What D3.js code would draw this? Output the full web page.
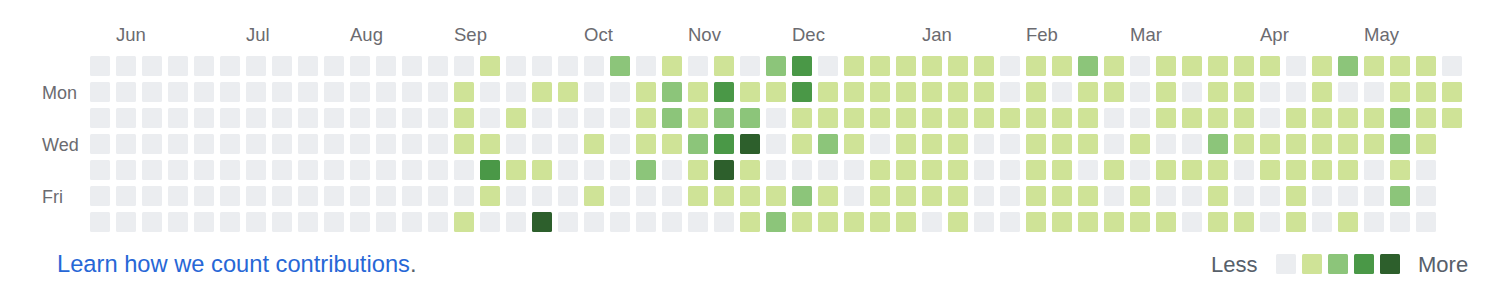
<!DOCTYPE html>
<html>
<head>
<meta charset="utf-8">
<script src="https://cdn.jsdelivr.net/npm/d3@7"></script>
<style>
  html, body { margin: 0; padding: 0; background: #ffffff; }
  svg { display: block; }
  text { font-family: "Liberation Sans", Arial, Helvetica, sans-serif; }
</style>
</head>
<body>
<svg id="chart" width="1510" height="296"></svg>
<script>
// ---- data ----
const dayLabels = ["", "Mon", "", "Wed", "", "Fri", ""];
const monthLabels = ["Jun", "Jul", "Aug", "Sep", "Oct", "Nov", "Dec", "Jan", "Feb", "Mar", "Apr", "May"];
const monthWeeks = [1, 6, 10, 14, 19, 23, 27, 32, 36, 40, 45, 49];
const weekCount = 53;
// contribution level (0-4) per week, one array per weekday row
const sunLevels = [0,0,0,0,0,0,0,0,0,0,0,0,0,0, 0,1,0,0,0,0,2,0,1,0,1,0,2,3,0, 1,1,1,1,1,1,0,1,1,2,1,0,1, 1,1,1,1,0,1,2,1,1,1,0];
const monLevels = [0,0,0,0,0,0,0,0,0,0,0,0,0,0, 1,0,0,1,1,0,0,1,2,1,3,1,1,3,1, 1,1,1,1,1,1,0,1,0,1,1,0,1, 0,1,1,0,0,1,0,0,1,1,1];
const tueLevels = [0,0,0,0,0,0,0,0,0,0,0,0,0,0, 1,0,1,0,0,0,0,1,2,1,2,2,0,1,1, 1,1,1,1,1,1,1,1,1,1,0,0,1, 1,1,1,0,1,1,1,1,2,1,1];
const wedLevels = [0,0,0,0,0,0,0,0,0,0,0,0,0,0, 1,1,0,0,0,1,0,1,1,2,3,4,0,1,2, 1,0,1,1,1,0,0,1,1,1,0,1,0, 0,2,1,1,1,1,1,1,2,1];
const thuLevels = [0,0,0,0,0,0,0,0,0,0,0,0,0,0, 0,3,1,1,0,0,0,2,0,1,4,1,0,0,0, 0,1,1,1,1,0,0,1,1,0,1,0,1, 1,1,0,1,1,1,1,0,1,0];
const friLevels = [0,0,0,0,0,0,0,0,0,0,0,0,0,0, 0,1,0,0,0,1,0,0,0,1,1,1,1,2,1, 0,1,1,1,1,0,0,1,1,1,0,1,0, 0,1,0,0,1,0,0,0,2,0];
const satLevels = [0,0,0,0,0,0,0,0,0,0,0,0,0,0, 1,0,0,4,0,0,0,0,0,0,0,1,2,1,1, 1,1,1,0,1,0,0,1,1,1,1,1,1, 0,1,1,0,1,0,1,0,0,0];
const legendLevels = [0, 1, 2, 3, 4];
const levelColors = ["#ebedf0", "#cfe397", "#8cc57a", "#4a9847", "#2d5f2c"];

// ---- build ----
const rows = [sunLevels, monLevels, tueLevels, wedLevels, thuLevels, friLevels, satLevels];
const cells = [];
rows.forEach((arr, r) => arr.forEach((lvl, w) => cells.push({ week: w, day: r, level: lvl })));

const svg = d3.select("#chart");
const gap = 6 / 26;
const x = d3.scaleBand().domain(d3.range(weekCount)).range([90, 90 + weekCount * 26 - 6]).paddingInner(gap).paddingOuter(0);
const y = d3.scaleBand().domain(d3.range(7)).range([56, 56 + 7 * 26 - 6]).paddingInner(gap).paddingOuter(0);
const color = d3.scaleOrdinal().domain(legendLevels).range(levelColors);

svg.append("g").selectAll("rect").data(cells).join("rect")
  .attr("x", d => x(d.week))
  .attr("y", d => y(d.day))
  .attr("width", x.bandwidth())
  .attr("height", y.bandwidth())
  .attr("rx", 1.5)
  .attr("fill", d => color(d.level));

// month labels
svg.append("g").selectAll("text").data(monthLabels).join("text")
  .attr("x", (d, i) => x(monthWeeks[i]))
  .attr("y", 41)
  .attr("font-size", 18.5)
  .attr("fill", "#6b6b70")
  .text(d => d);

// day labels
svg.append("g").selectAll("text").data(dayLabels).join("text")
  .attr("x", 42)
  .attr("y", (d, i) => y(i) + y.bandwidth() / 2 + 6.5)
  .attr("font-size", 18)
  .attr("fill", "#6b6b70")
  .text(d => d);

// footer link
const foot = svg.append("text").attr("x", 57).attr("y", 272).attr("font-size", 23.7);
foot.append("tspan").attr("fill", "#2767d6").text("Learn how we count contributions");
foot.append("tspan").attr("fill", "#57606a").text(".");

// legend
const lx = d3.scaleBand().domain(legendLevels).range([1276, 1276 + 5 * 26 - 6]).paddingInner(gap).paddingOuter(0);
svg.append("g").selectAll("rect").data(legendLevels).join("rect")
  .attr("x", d => lx(d))
  .attr("y", 254)
  .attr("width", lx.bandwidth())
  .attr("height", 20)
  .attr("rx", 1.5)
  .attr("fill", d => color(d));
svg.append("text").attr("x", 1211).attr("y", 272).attr("font-size", 22).attr("fill", "#57606a").text("Less");
svg.append("text").attr("x", 1418).attr("y", 272).attr("font-size", 22).attr("fill", "#57606a").text("More");
</script>
</body>
</html>
